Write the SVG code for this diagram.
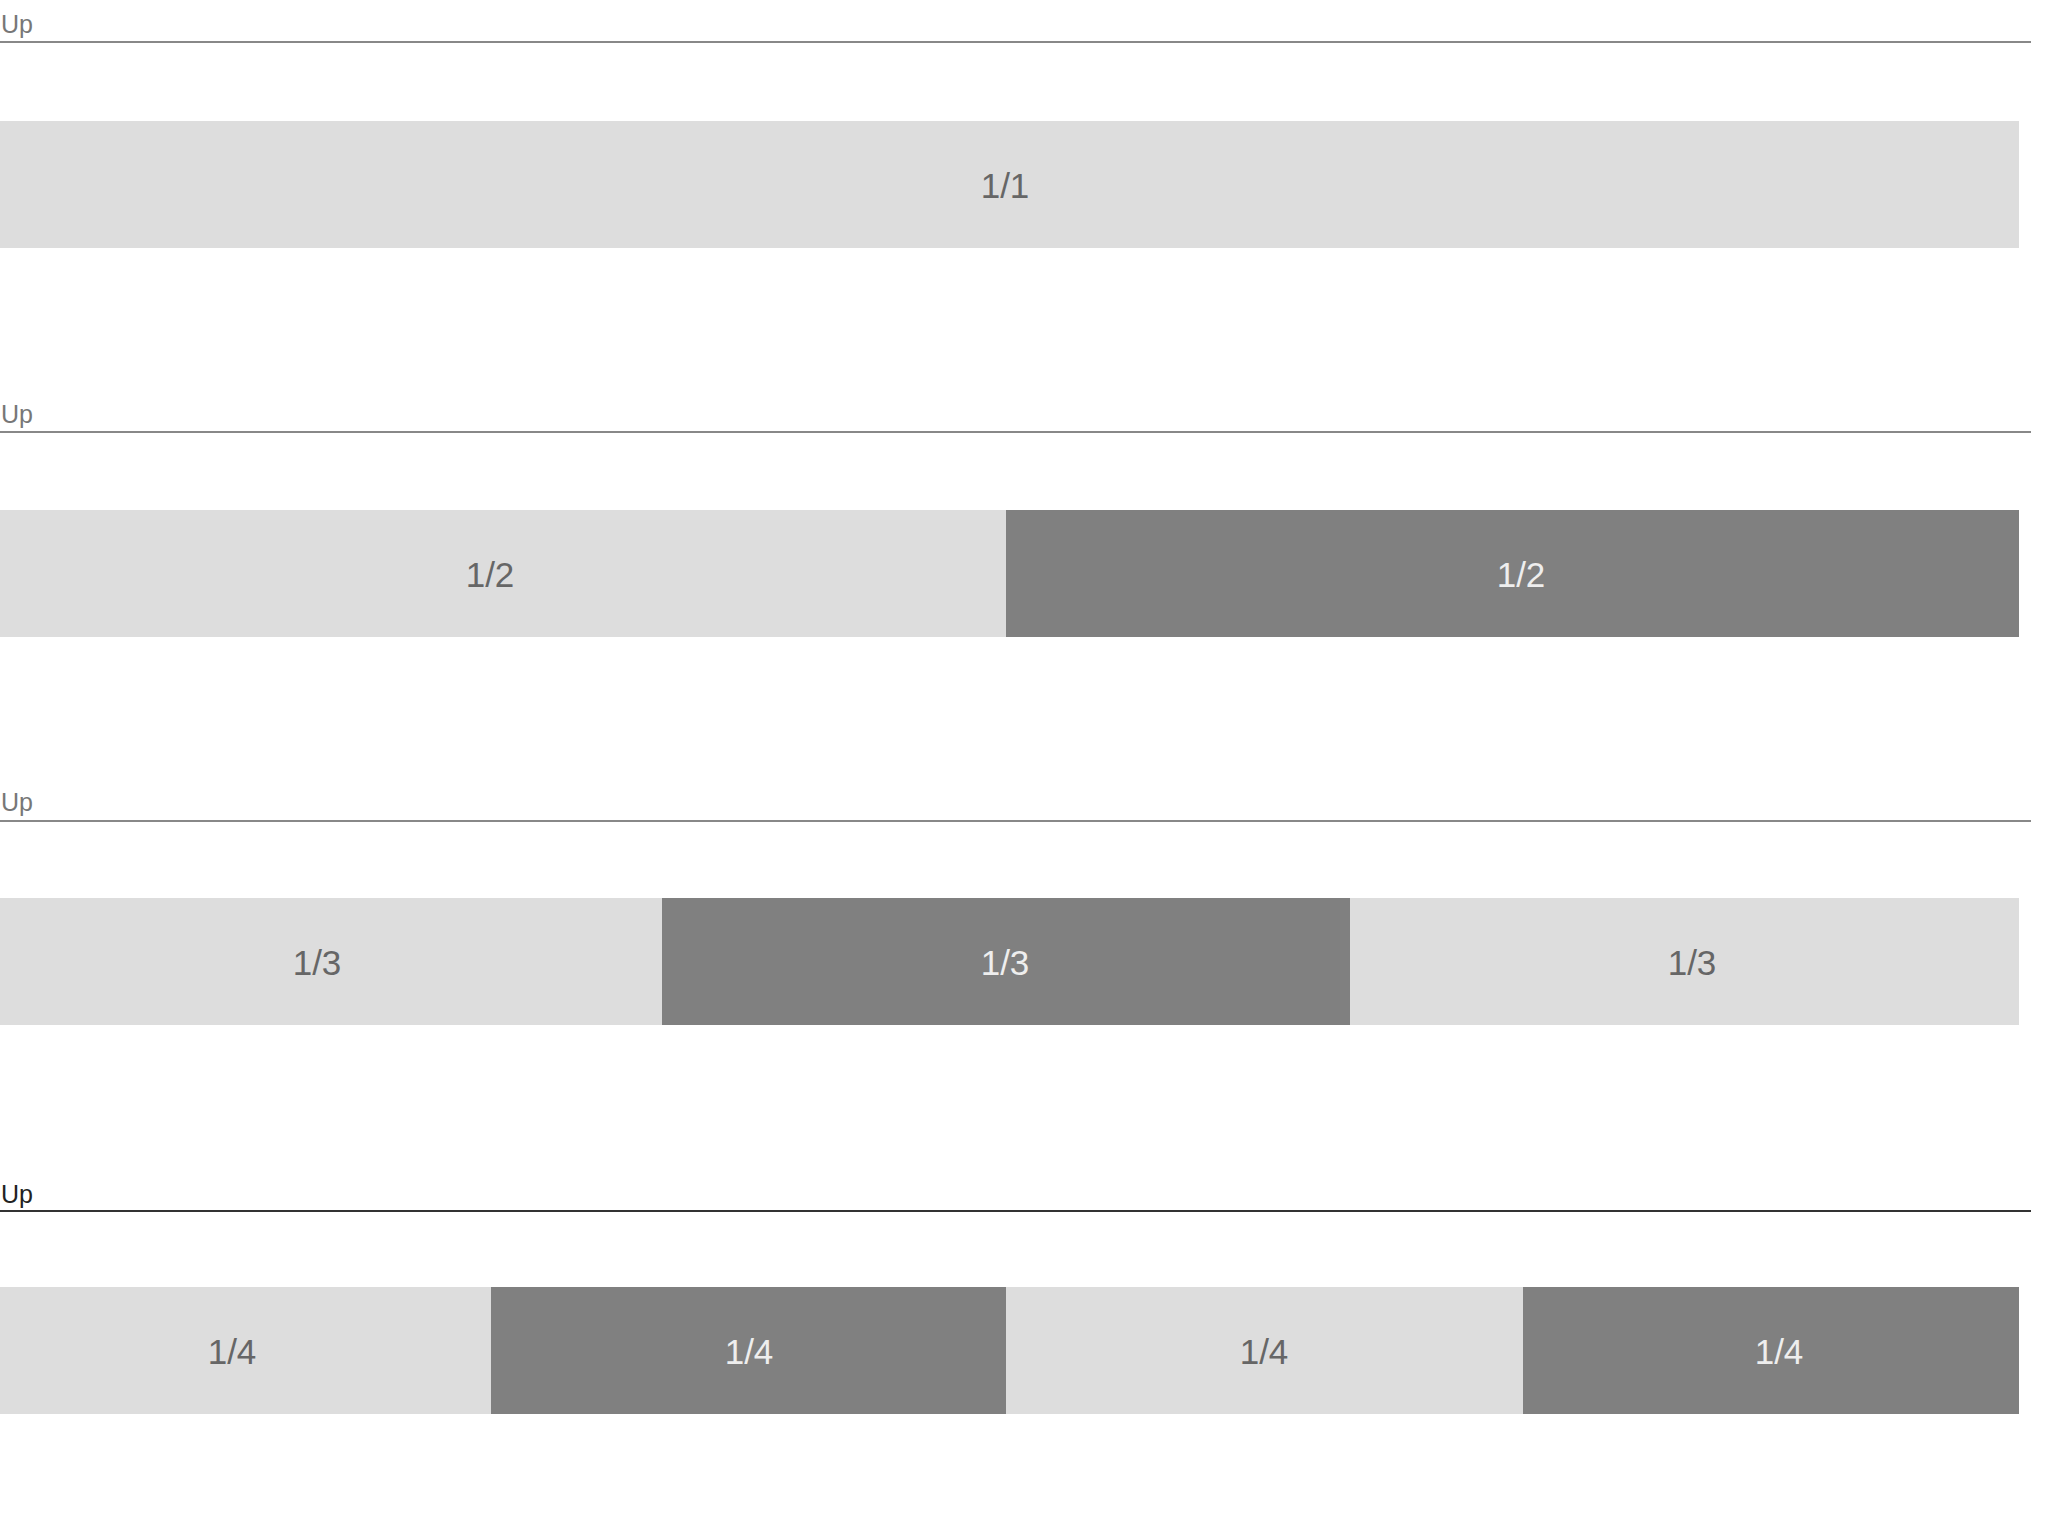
<svg xmlns="http://www.w3.org/2000/svg" width="2048" height="1536" viewBox="0 0 2048 1536">
<style>
.bg{fill:#ffffff}
.lt{fill:#dddddd}
.dk{fill:#808080}
.up{font-family:"Liberation Sans",Arial,sans-serif;font-size:25px;fill:#777777}
.rule{stroke:#888888;stroke-width:2}
.lbl{font-family:"Liberation Sans",Arial,sans-serif;font-size:35px;text-anchor:middle;dominant-baseline:central}
.lbl.l{fill:#666666}
.lbl.d{fill:#eeeeee}
</style>
<rect class="bg" x="0" y="0" width="2048" height="1536"/>
<g id="row1">
<text class="up" x="1" y="33">Up</text>
<line class="rule" x1="0" y1="42" x2="2031" y2="42"/>
<g id="r1c1"><rect class="lt" x="0" y="121" width="2019" height="127"/><text class="lbl l" x="1005" y="185">1/1</text></g>
</g>
<g id="row2">
<text class="up" x="1" y="423">Up</text>
<line class="rule" x1="0" y1="432" x2="2031" y2="432"/>
<g id="r2c1"><rect class="lt" x="0" y="510" width="1006" height="127"/><text class="lbl l" x="490" y="574">1/2</text></g>
<g id="r2c2"><rect class="dk" x="1006" y="510" width="1013" height="127"/><text class="lbl d" x="1521" y="574">1/2</text></g>
</g>
<g id="row3">
<text class="up" x="1" y="811">Up</text>
<line class="rule" x1="0" y1="821" x2="2031" y2="821"/>
<g id="r3c1"><rect class="lt" x="0" y="898" width="662" height="127"/><text class="lbl l" x="317" y="962">1/3</text></g>
<g id="r3c2"><rect class="dk" x="662" y="898" width="688" height="127"/><text class="lbl d" x="1005" y="962">1/3</text></g>
<g id="r3c3"><rect class="lt" x="1350" y="898" width="669" height="127"/><text class="lbl l" x="1692" y="962">1/3</text></g>
</g>
<g id="row4">
<text class="up" x="1" y="1203" style="fill:#222222">Up</text>
<line class="rule" x1="0" y1="1211" x2="2031" y2="1211" style="stroke:#333333"/>
<g id="r4c1"><rect class="lt" x="0" y="1287" width="491" height="127"/><text class="lbl l" x="232" y="1351">1/4</text></g>
<g id="r4c2"><rect class="dk" x="491" y="1287" width="515" height="127"/><text class="lbl d" x="749" y="1351">1/4</text></g>
<g id="r4c3"><rect class="lt" x="1006" y="1287" width="517" height="127"/><text class="lbl l" x="1264" y="1351">1/4</text></g>
<g id="r4c4"><rect class="dk" x="1523" y="1287" width="496" height="127"/><text class="lbl d" x="1779" y="1351">1/4</text></g>
</g>
<g id="connectors"></g>
</svg>
